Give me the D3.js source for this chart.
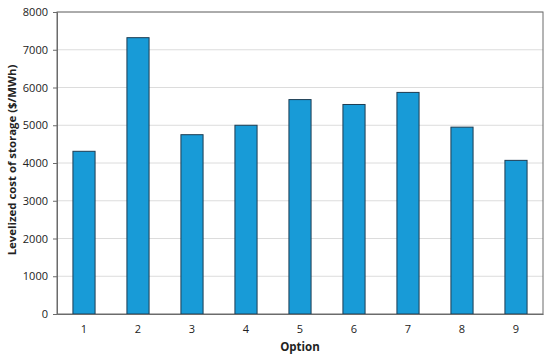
<!DOCTYPE html>
<html>
<head>
<meta charset="utf-8">
<script src="https://cdn.jsdelivr.net/npm/d3@7"></script>
<style>
  body { margin: 0; background: #fff; }
  text { font-family: "Open Sans", "Liberation Sans", sans-serif; fill: #222; }
</style>
</head>
<body>
<div id="chart"></div>
<script>
'use strict';

const options = ["1", "2", "3", "4", "5", "6", "7", "8", "9"];
const costs = [4310, 7320, 4750, 5000, 5680, 5550, 5870, 4950, 4070];
const yTicks = [0, 1000, 2000, 3000, 4000, 5000, 6000, 7000, 8000];

const msm = {
  width: 550,
  height: 358,
  left: 57,
  right: 543,
  top: 12,
  bottom: 314
};

const svg = d3.select('#chart')
  .append('svg')
  .attr('width', msm.width)
  .attr('height', msm.height);

const xScale = d3.scaleBand()
  .domain(options)
  .range([msm.left, msm.right])
  .paddingInner(0.59)
  .paddingOuter(0.295);

const yScale = d3.scaleLinear()
  .domain([0, 8000])
  .range([msm.bottom, msm.top]);

// gridlines
svg.append('g')
  .selectAll('line')
  .data(yTicks.slice(1))
  .enter()
  .append('line')
    .attr('x1', msm.left)
    .attr('x2', msm.right)
    .attr('y1', d => yScale(d))
    .attr('y2', d => yScale(d))
    .attr('stroke', '#dcdcdc')
    .attr('stroke-width', 1);

// plot frame
svg.append('rect')
  .attr('x', msm.left)
  .attr('y', msm.top)
  .attr('width', msm.right - msm.left)
  .attr('height', msm.bottom - msm.top)
  .attr('fill', 'none')
  .attr('stroke', '#6b6b6b')
  .attr('stroke-width', 1);

// bars
svg.selectAll('.bar')
  .data(costs)
  .enter()
  .append('rect')
    .attr('class', 'bar')
    .attr('x', (d, i) => xScale(options[i]))
    .attr('y', d => yScale(d))
    .attr('width', xScale.bandwidth())
    .attr('height', d => msm.bottom - yScale(d))
    .attr('fill', '#189bd7')
    .attr('stroke', '#1e3c52')
    .attr('stroke-width', 1);

// y axis
const yAxis = d3.axisLeft(yScale).tickValues(yTicks).tickSize(4).tickPadding(5).tickFormat(d3.format('d'));
svg.append('g')
  .attr('transform', 'translate(' + msm.left + ',0)')
  .call(yAxis)
  .call(g => g.select('.domain').attr('stroke', '#6b6b6b'))
  .call(g => g.selectAll('.tick line').attr('stroke', '#6b6b6b'))
  .call(g => g.selectAll('text').style('font-size', '11px').attr('fill', '#222'));

// x axis
const xAxis = d3.axisBottom(xScale).tickSize(0).tickPadding(11);
svg.append('g')
  .attr('transform', 'translate(0,' + msm.bottom + ')')
  .call(xAxis)
  .call(g => g.select('.domain').attr('stroke', '#6b6b6b'))
  .call(g => g.selectAll('text').style('font-size', '11px').attr('fill', '#222'));

// labels
svg.append('text')
  .attr('x', (msm.left + msm.right) / 2)
  .attr('y', 351)
  .attr('text-anchor', 'middle')
  .style('font-size', '11.5px')
  .style('font-weight', 'bold')
  .text('Option');

svg.append('text')
  .attr('transform', 'translate(16,160) rotate(-90)')
  .attr('text-anchor', 'middle')
  .style('font-size', '11.4px')
  .style('font-weight', 'bold')
  .text('Levelized cost of storage ($/MWh)');
</script>
</body>
</html>
